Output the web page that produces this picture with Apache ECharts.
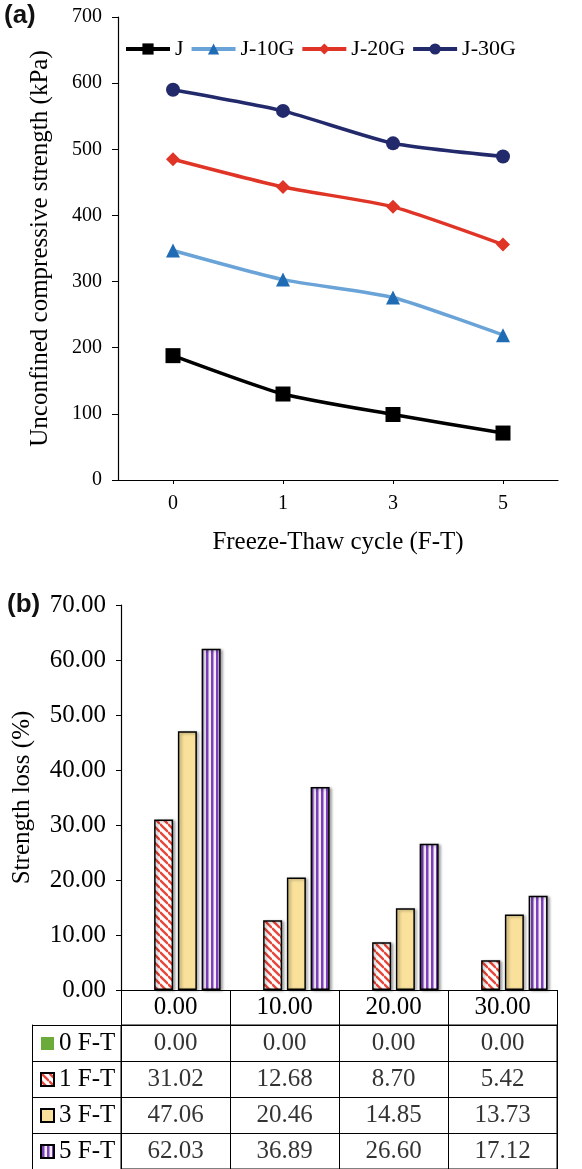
<!DOCTYPE html>
<html>
<head>
<meta charset="utf-8">
<script src="https://cdn.jsdelivr.net/npm/echarts@6/dist/echarts.min.js"></script>
<style>
html, body { margin: 0; padding: 0; background: #fff; }
#mychart { width: 582px; height: 1169px; }
</style>
</head>
<body>
<div id="mychart"></div>
<script>
"use strict";
// (a) unconfined compressive strength, kPa
const cycles = ['0', '1', '3', '5'];
const strengthJ = [188, 130, 99, 71];
const strengthJ10G = [347, 303, 276, 219];
const strengthJ20G = [485, 443, 413, 356];
const strengthJ30G = [590, 558, 509, 489];

// (b) strength loss, %
const contents = ['0.00', '10.00', '20.00', '30.00'];
const lossNames = ['0 F-T', '1 F-T', '3 F-T', '5 F-T'];
const loss0 = [0, 0, 0, 0];
const loss1 = [31.02, 12.68, 8.70, 5.42];
const loss3 = [47.06, 20.46, 14.85, 13.73];
const loss5 = [62.03, 36.89, 26.60, 17.12];

const serif = 'Liberation Serif';

function pattern(w, h, draw) {
    const c = document.createElement('canvas');
    c.width = w;
    c.height = h;
    draw(c.getContext('2d'), w, h);
    return { image: c, repeat: 'repeat' };
}
const redHatch = pattern(8, 8, (ctx, w, h) => {
    ctx.fillStyle = '#fff';
    ctx.fillRect(0, 0, w, h);
    ctx.strokeStyle = '#e8473b';
    ctx.lineWidth = 2.4;
    for (let k = -8; k <= 8; k += 8) {
        ctx.beginPath();
        ctx.moveTo(0, k);
        ctx.lineTo(8, k + 8);
        ctx.stroke();
    }
});
const purpleLines = pattern(5, 4, (ctx, w, h) => {
    ctx.fillStyle = '#f3eef9';
    ctx.fillRect(0, 0, w, h);
    ctx.fillStyle = '#7d3fba';
    ctx.fillRect(1, 0, 2.5, h);
});

const container = document.getElementById('mychart');
const myChart = echarts.init(container);

function lineSeries(name, data, lineColor, markColor, symbol, size) {
    return {
        name, type: 'line', data, xAxisIndex: 0, yAxisIndex: 0,
        smooth: 0.2, symbol, symbolSize: size,
        lineStyle: { color: lineColor, width: 3.5 },
        itemStyle: { color: markColor },
        z: 3
    };
}
function barSeries(name, data, color, border) {
    return {
        name, type: 'bar', data, xAxisIndex: 1, yAxisIndex: 1,
        barWidth: 19, barGap: '25%',
        itemStyle: border ? {
            color, borderColor: '#000', borderWidth: 1.5,
            shadowColor: 'rgba(0,0,0,0.35)', shadowBlur: 3, shadowOffsetX: 2, shadowOffsetY: 1
        } : { color, borderWidth: 0 }
    };
}

const lossTable = [loss0, loss1, loss3, loss5];
const cells = [];
lossTable.forEach((row, r) => row.forEach((v, c) => cells.push([c, r, v])));

const black = { color: '#000', width: 1.2 };
const titleFont = { fontFamily: 'Liberation Sans', fontWeight: 'bold', fontSize: 26, color: '#111' };

const option = {
    animation: false,
    title: [
        { text: '(a)', left: 4, top: 3, padding: 0, textStyle: titleFont },
        { text: '(b)', left: 7, top: 592, padding: 0, textStyle: titleFont }
    ],
    legend: [
        {
            data: ['J', 'J-10G', 'J-20G', 'J-30G'],
            left: 124, top: 38, padding: 0, itemGap: 6,
            itemWidth: 44, itemHeight: 14,
            lineStyle: { width: 4 },
            textStyle: { fontFamily: serif, fontSize: 22, lineHeight: 22, color: '#000' }
        },
        {
            data: lossNames, icon: 'rect',
            orient: 'vertical', left: 40, top: 1031, padding: 0, itemGap: 11,
            itemWidth: 13, itemHeight: 13,
            textStyle: { fontFamily: serif, fontSize: 25, lineHeight: 25, color: '#000' }
        }
    ],
    grid: [
        { left: 118, top: 17, width: 440, height: 463 },
        { left: 121, top: 605, width: 436, height: 385 },
        { left: 121, top: 1025, width: 436, height: 145, show: true, borderColor: '#000', borderWidth: 1 }
    ],
    xAxis: [
        {
            gridIndex: 0, type: 'category', data: cycles,
            axisLine: { lineStyle: black },
            axisTick: { show: true, alignWithLabel: true, length: 4, lineStyle: { color: '#000' } },
            axisLabel: { fontFamily: serif, fontSize: 20, color: '#000', margin: 14 },
            name: 'Freeze-Thaw cycle (F-T)', nameLocation: 'middle', nameGap: 50,
            nameTextStyle: { fontFamily: serif, fontSize: 25, color: '#000' }
        },
        {
            gridIndex: 1, type: 'category', data: contents,
            axisLine: { lineStyle: black },
            axisTick: { show: true, length: 35, lineStyle: { color: '#000', width: 1 } },
            axisLabel: { fontFamily: serif, fontSize: 25, color: '#000', margin: 5 }
        },
        {
            gridIndex: 2, type: 'category', data: contents,
            axisLine: { show: false }, axisTick: { show: false }, axisLabel: { show: false },
            splitLine: { show: true, lineStyle: { color: '#000', width: 1 } }
        }
    ],
    yAxis: [
        {
            gridIndex: 0, type: 'value', min: 0, max: 700, interval: 100,
            axisLine: { show: true, lineStyle: black },
            axisTick: { show: true, length: 6, lineStyle: { color: '#000' } },
            splitLine: { show: false },
            axisLabel: { fontFamily: serif, fontSize: 20, color: '#000', margin: 16 },
            name: 'Unconfined compressive strength (kPa)', nameLocation: 'middle', nameGap: 65,
            nameTextStyle: { fontFamily: serif, fontSize: 25, color: '#000' }
        },
        {
            gridIndex: 1, type: 'value', min: 0, max: 70, interval: 10,
            axisLine: { show: true, lineStyle: black },
            axisTick: { show: true, length: 5, lineStyle: { color: '#000' } },
            splitLine: { show: false },
            axisLabel: { fontFamily: serif, fontSize: 25, color: '#000', margin: 15, formatter: v => v.toFixed(2) },
            name: 'Strength loss (%)', nameLocation: 'middle', nameGap: 86,
            nameTextStyle: { fontFamily: serif, fontSize: 25, color: '#000' }
        },
        {
            gridIndex: 2, type: 'category', data: lossNames, inverse: true,
            axisLine: { show: true, lineStyle: { color: '#000', width: 1 } },
            axisTick: { show: true, length: 89, lineStyle: { color: '#000', width: 1 } },
            axisLabel: { show: false },
            splitLine: { show: true, lineStyle: { color: '#000', width: 1 } }
        },
        {
            gridIndex: 2, type: 'value', min: 0, max: 1, position: 'left', offset: 89,
            axisLine: { show: true, lineStyle: { color: '#000', width: 1 } },
            axisTick: { show: false }, axisLabel: { show: false }, splitLine: { show: false }
        }
    ],
    series: [
        lineSeries('J', strengthJ, '#000', '#000', 'rect', 15),
        lineSeries('J-10G', strengthJ10G, '#6aa3d8', '#1f6bb4', 'triangle', 14),
        lineSeries('J-20G', strengthJ20G, '#e03526', '#e03526', 'diamond', 14),
        lineSeries('J-30G', strengthJ30G, '#232a6b', '#232a6b', 'circle', 14),
        barSeries('0 F-T', loss0, '#6aab3a', false),
        barSeries('1 F-T', loss1, redHatch, true),
        barSeries('3 F-T', loss3, '#f9e19b', true),
        barSeries('5 F-T', loss5, purpleLines, true),
        {
            type: 'scatter', xAxisIndex: 2, yAxisIndex: 2, data: cells,
            symbolSize: 1, itemStyle: { color: 'transparent' }, silent: true,
            label: {
                show: true, position: 'inside',
                fontFamily: serif, fontSize: 25, color: '#000',
                formatter: p => p.value[2].toFixed(2)
            }
        }
    ]
};
myChart.setOption(option);
</script>
</body>
</html>
